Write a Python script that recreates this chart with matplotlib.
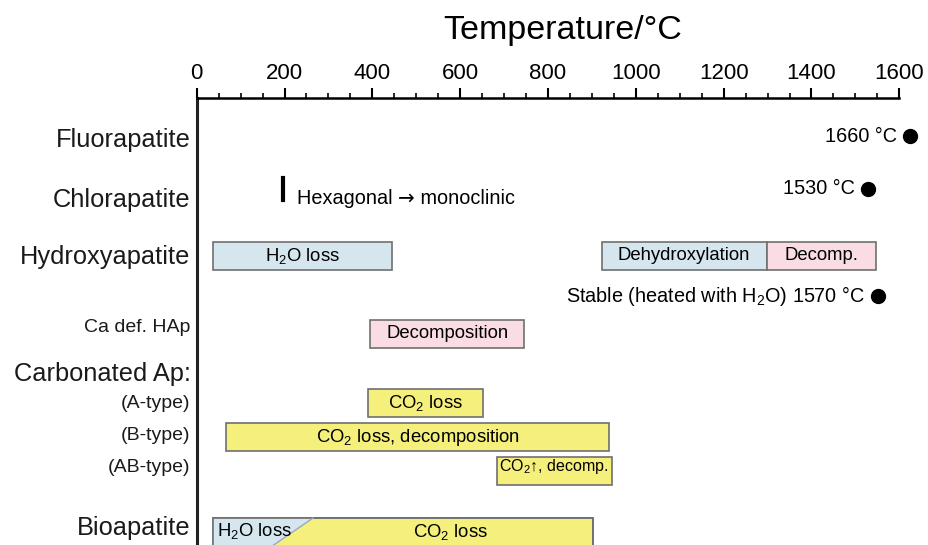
#!/usr/bin/env python3
import matplotlib
matplotlib.use("Agg")
import matplotlib.pyplot as plt
from matplotlib.patches import Rectangle, Polygon

plt.rcParams['font.family'] = ['Liberation Sans', 'DejaVu Sans']
plt.rcParams['mathtext.fontset'] = 'custom'
plt.rcParams['mathtext.rm'] = 'Liberation Sans'
plt.rcParams['mathtext.it'] = 'Liberation Sans:italic'

# Reihen (Beschriftung links)
rows = ["Fluorapatite", "Chlorapatite", "Hydroxyapatite", "Ca def. HAp",
        "Carbonated Ap:", "(A-type)", "(B-type)", "(AB-type)", "Bioapatite"]
row_size = [18.3, 18.3, 18.3, 14, 18.3, 14, 14, 14, 18.3]

# Balken: Reihe, Start, Ende (°C), Text, Farbe
bar_row = [2, 2, 2, 3, 5, 6, 7, 8]
bar_start = [36, 922, 1298, 395, 389, 67, 683, 36]
bar_end = [445, 1298, 1548, 746, 651, 940, 945, 902]
bar_text = ["H$_2$O loss", "Dehydroxylation", "Decomp.", "Decomposition",
            "CO$_2$ loss", "CO$_2$ loss, decomposition", "CO$_2$↑, decomp.",
            "CO$_2$ loss"]
bar_kind = ["water", "water", "decomp", "decomp", "co2", "co2", "co2", "co2"]

# Schmelz-/Zersetzungspunkte
dot_row = [0, 1, 2]
dot_temp = [1625, 1529, 1552]
dot_text = ["1660 °C", "1530 °C", "Stable (heated with H$_2$O) 1570 °C"]

# Phasenumwandlung Chlorapatit
trans_temp = 197
trans_text = ["Hexagonal ", "→", " monoclinic"]

# Bioapatit: H2O-Anteil (Dreieck oben/unten)
bio_water_top = 265
bio_water_bottom = 172

colors = {"water": "#d5e6ee", "decomp": "#f9dce4", "co2": "#f5ef7c"}
edge = "#6f6f6f"

# Layout (Pixel von oben)
row_label_y = [140, 200, 257, 327, 374, 404, 435, 468, 528]
row_bar_y = [136, 189, 256, 334, 374, 403, 437, 471, 532]
dot_y = [136, 189, 296]
bar_h = 28

W, H = 929, 545
fig = plt.figure(figsize=(W / 100, H / 100), dpi=100)
x0, x1 = 196.7, 899.3
top = 98
ax = fig.add_axes([x0 / W, 0, (x1 - x0) / W, (H - top) / H])
ax.set_xlim(0, 1600)
ax.set_ylim(H, top)

for s in ["right", "bottom"]:
    ax.spines[s].set_visible(False)
ax.spines["top"].set_linewidth(1.8)
ax.spines["left"].set_linewidth(2.2)
ax.spines["left"].set_color("#222222")
ax.xaxis.tick_top()
ax.set_xticks(range(0, 1601, 200))
ax.set_xticks(range(0, 1601, 50), minor=True)
ax.tick_params(axis="x", which="major", direction="out", length=7.5, width=1.5,
               labelsize=16, pad=2.5)
ax.tick_params(axis="x", which="minor", direction="out", length=3.5, width=1.2)
ax.set_yticks([])
fig.text(563 / W, 1 - 30 / H, "Temperature/°C", fontsize=24.5,
         ha="center", va="center")

# Reihenbeschriftung
for name, size, y in zip(rows, row_size, row_label_y):
    ax.text(-14, y, name, ha="right", va="center", fontsize=size,
            clip_on=False, color="#1a1a1a")

# Balken
for r, a, b, t, k in zip(bar_row, bar_start, bar_end, bar_text, bar_kind):
    yc = row_bar_y[r]
    ax.add_patch(Rectangle((a, yc - bar_h / 2), b - a, bar_h,
                           facecolor=colors[k], edgecolor=edge, lw=1.2))
    xt = (a + b) / 2
    if r == 8:
        xt = xt + 108
    if "↑" in t:
        ax.text(xt, yc - 4, t, ha="center", va="center", fontsize=11.5)
    else:
        ax.text(xt, yc, t, ha="center", va="center", fontsize=13.3)

# Bioapatit: H2O-Dreieck
yb = row_bar_y[8]
ax.add_patch(Polygon([(bar_start[-1], yb - bar_h / 2), (bio_water_top, yb - bar_h / 2),
                      (bio_water_bottom, yb + bar_h / 2), (bar_start[-1], yb + bar_h / 2)],
                     closed=True, facecolor=colors["water"], edgecolor="none"))
ax.plot([bio_water_top, bio_water_bottom], [yb - bar_h / 2, yb + bar_h / 2],
        color="#9aa6c8", lw=1)
ax.add_patch(Rectangle((bar_start[-1], yb - bar_h / 2), bar_end[-1] - bar_start[-1],
                       bar_h, facecolor="none", edgecolor=edge, lw=1.2))
ax.text(bar_start[-1] + 10, yb - 1, "H$_2$O loss", ha="left", va="center", fontsize=13.3)

# Punkte
for r, t, txt, y in zip(dot_row, dot_temp, dot_text, dot_y):
    ax.plot(t, y, "o", color="black", ms=10, clip_on=False)
    ax.annotate(txt, (t, y), xytext=(-13, 0), textcoords="offset pixels",
                ha="right", va="center", fontsize=14.3, annotation_clip=False)

# Phasenumwandlung
ax.plot([trans_temp, trans_temp], [row_bar_y[1] - 11, row_bar_y[1] + 11],
        color="black", lw=3)
renderer = fig.canvas.get_renderer()
xoff = 14
for i, part in enumerate(trans_text):
    fam = ["DejaVu Sans"] if part == "→" else ["Liberation Sans"]
    tx = ax.annotate(part, (trans_temp, row_bar_y[1] + 9), xytext=(xoff, 0),
                     textcoords="offset pixels", ha="left", va="center",
                     fontsize=14.3, family=fam)
    xoff += tx.get_window_extent(renderer).width

fig.savefig("out.png", dpi=100)
